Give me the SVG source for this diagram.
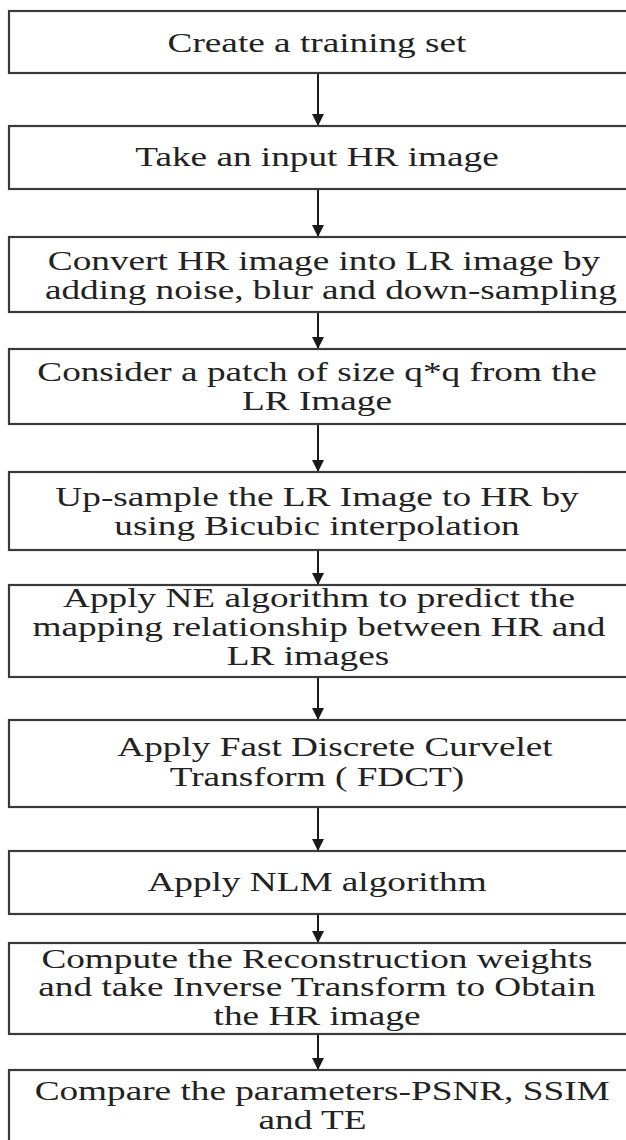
<svg xmlns="http://www.w3.org/2000/svg" width="626" height="1140" viewBox="0 0 626 1140">
<defs>
<style>
.box{fill:#fff;stroke:#3a3a3a;stroke-width:2.2}
.t{font-family:"Liberation Serif","Times New Roman",serif;font-size:27px;fill:#222;text-anchor:middle}
.c{stroke:#1a1a1a;stroke-width:2;fill:none;marker-end:url(#ah)}
</style>
<marker id="ah" viewBox="0 0 10 10" refX="10" refY="5" markerWidth="6" markerHeight="6" markerUnits="strokeWidth" orient="auto">
<path d="M0,0 L10,5 L0,10 z" fill="#1a1a1a"/>
</marker>
</defs>
<rect width="626" height="1140" fill="#fff"/>
<g id="connectors">
<line class="c" x1="318" y1="73" x2="318" y2="126"/>
<line class="c" x1="318" y1="189" x2="318" y2="237"/>
<line class="c" x1="318" y1="312" x2="318" y2="349"/>
<line class="c" x1="318" y1="424" x2="318" y2="472"/>
<line class="c" x1="318" y1="550" x2="318" y2="585"/>
<line class="c" x1="318" y1="677" x2="318" y2="720"/>
<line class="c" x1="318" y1="807" x2="318" y2="851"/>
<line class="c" x1="318" y1="914" x2="318" y2="943"/>
<line class="c" x1="318" y1="1034" x2="318" y2="1070"/>
</g>
<g id="n1">
<rect class="box" x="9" y="11" width="640" height="62"/>
<text class="t" transform="translate(317,52) scale(1.38,1)">Create a training set</text>
</g>
<g id="n2">
<rect class="box" x="9" y="126" width="640" height="63"/>
<text class="t" transform="translate(317,166) scale(1.38,1)">Take an input HR image</text>
</g>
<g id="n3">
<rect class="box" x="9" y="237" width="640" height="75"/>
<text class="t" transform="translate(324,270) scale(1.38,1)"><tspan x="0">Convert HR image into LR image by</tspan><tspan x="5" dy="29">adding noise, blur and down-sampling</tspan></text>
</g>
<g id="n4">
<rect class="box" x="9" y="349" width="640" height="75"/>
<text class="t" transform="translate(317,381) scale(1.38,1)"><tspan x="0">Consider a patch of size q*q from the</tspan><tspan x="0" dy="29">LR Image</tspan></text>
</g>
<g id="n5">
<rect class="box" x="9" y="472" width="640" height="78"/>
<text class="t" transform="translate(317,506) scale(1.38,1)"><tspan x="0">Up-sample the LR Image to HR by</tspan><tspan x="0" dy="29">using Bicubic interpolation</tspan></text>
</g>
<g id="n6">
<rect class="box" x="9" y="585" width="640" height="92"/>
<text class="t" transform="translate(319,607) scale(1.38,1)"><tspan x="0">Apply NE algorithm to predict the</tspan><tspan x="0" dy="29">mapping relationship between HR and</tspan><tspan x="-8" dy="29">LR images</tspan></text>
</g>
<g id="n7">
<rect class="box" x="9" y="720" width="640" height="87"/>
<text class="t" transform="translate(317,756) scale(1.38,1)"><tspan x="13">Apply Fast Discrete Curvelet</tspan><tspan x="0" dy="30">Transform ( FDCT)</tspan></text>
</g>
<g id="n8">
<rect class="box" x="9" y="851" width="640" height="63"/>
<text class="t" transform="translate(317,891) scale(1.38,1)">Apply NLM algorithm</text>
</g>
<g id="n9">
<rect class="box" x="9" y="943" width="640" height="91"/>
<text class="t" transform="translate(317,968) scale(1.38,1)"><tspan x="0">Compute the Reconstruction weights</tspan><tspan x="0" dy="28.5">and take Inverse Transform to Obtain</tspan><tspan x="0" dy="28.5">the HR image</tspan></text>
</g>
<g id="n10">
<rect class="box" x="9" y="1070" width="640" height="80"/>
<text class="t" transform="translate(318,1100) scale(1.38,1)"><tspan x="3">Compare the parameters-PSNR, SSIM</tspan><tspan x="-4" dy="29">and TE</tspan></text>
</g>
</svg>
